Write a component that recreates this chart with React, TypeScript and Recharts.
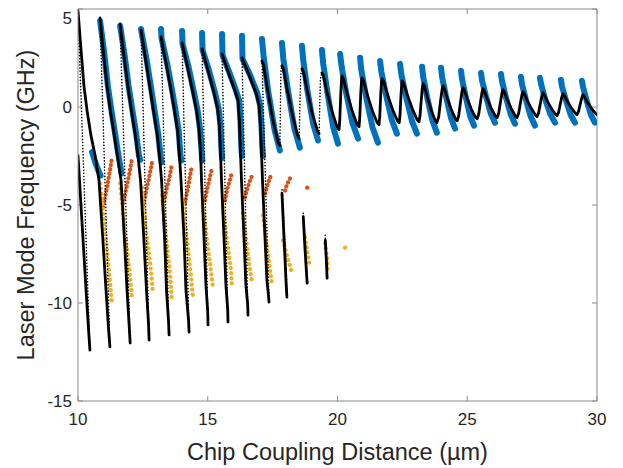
import React from 'react';
import { ComposedChart, Line, XAxis, YAxis, ReferenceLine } from 'recharts';

type Seg = [number, number][];

const xTicks = [10, 15, 20, 25, 30];
const yTicks = [-15, -10, -5, 0, 5];

// Black simulated curve: stable branches (thick)
const blackStable: Seg[] = [
  [[10.0, -2.48], [10.15, -5.78], [10.31, -9.34], [10.42, -11.63], [10.46, -12.4]],
  [[10.0, 4.9], [10.12, 2.86], [10.23, 1.08], [10.35, -0.19], [10.5, -1.46], [10.66, -2.48], [10.81, -3.75], [10.96, -6.8], [11.08, -9.34], [11.18, -11.38], [11.23, -12.24]],
  [[10.85, 4.54], [10.98, 2.76], [11.12, 1.08], [11.25, -0.19], [11.39, -1.36], [11.52, -2.48], [11.66, -3.75], [11.79, -6.8], [11.89, -9.34], [11.97, -11.12], [12.01, -12.04]],
  [[11.62, 4.24], [11.77, 2.61], [11.93, 0.98], [12.06, -0.19], [12.2, -1.36], [12.31, -2.48], [12.41, -3.75], [12.54, -6.8], [12.64, -9.34], [12.72, -11.12], [12.74, -11.89]],
  [[12.43, 3.93], [12.6, 2.46], [12.78, 0.93], [12.91, -0.19], [13.05, -1.36], [13.14, -2.48], [13.22, -3.75], [13.34, -6.8], [13.41, -9.34], [13.49, -10.97], [13.51, -11.63]],
  [[13.2, 3.58], [13.39, 2.25], [13.59, 0.83], [13.72, -0.19], [13.84, -1.21], [13.91, -2.48], [13.97, -3.75], [14.09, -6.8], [14.16, -9.34], [14.26, -10.87], [14.28, -11.48]],
  [[14.01, 3.27], [14.22, 2.05], [14.43, 0.73], [14.57, -0.19], [14.66, -1.1], [14.72, -2.22], [14.76, -3.75], [14.86, -6.8], [14.93, -9.09], [15.0, -10.46], [15.01, -11.12]],
  [[14.78, 2.97], [15.01, 1.85], [15.24, 0.73], [15.38, -0.09], [15.45, -0.95], [15.49, -2.22], [15.53, -3.75], [15.63, -6.8], [15.7, -9.09], [15.77, -10.36], [15.78, -10.97]],
  [[15.55, 2.71], [15.8, 1.74], [16.05, 0.83], [16.17, 0.32], [16.22, -0.7], [16.26, -2.22], [16.3, -3.75], [16.4, -6.8], [16.47, -9.09], [16.54, -10.11], [16.55, -10.62]],
  [[16.32, 2.51], [16.59, 1.64], [16.86, 0.73], [16.98, 0.07], [17.03, -0.95], [17.07, -2.22], [17.11, -3.75], [17.21, -6.8], [17.28, -8.84], [17.34, -9.6], [17.36, -9.95]],
  [[17.09, 2.35], [17.15, 2.15], [17.29, 1.0], [17.5, -0.6], [17.71, -1.8], [17.78, -1.97]],
  [[17.86, 2.1], [17.92, 1.92], [18.06, 0.9], [18.27, -0.45], [18.46, -1.45], [18.52, -1.61]],
  [[18.63, 1.95], [18.69, 1.78], [18.83, 0.85], [19.03, -0.35], [19.23, -1.22], [19.29, -1.36]],
  [
    [19.4, 1.74], [19.46, 1.6], [19.6, 0.73], [19.8, -0.28], [19.99, -1.03], [20.06, -1.15], [20.09, -0.6], [20.13, 0.8], [20.16, 1.45],
    [20.17, 1.59], [20.23, 1.45], [20.37, 0.68], [20.57, -0.22], [20.76, -0.9], [20.83, -1.0], [20.86, -0.5], [20.9, 0.8], [20.93, 1.38],
    [20.94, 1.49], [21.0, 1.35], [21.14, 0.65], [21.34, -0.18], [21.53, -0.8], [21.6, -0.9], [21.63, -0.45], [21.67, 0.75], [21.7, 1.33],
    [21.72, 1.44], [21.78, 1.3], [21.92, 0.66], [22.12, -0.13], [22.31, -0.7], [22.38, -0.8], [22.41, -0.4], [22.45, 0.7], [22.48, 1.22],
    [22.49, 1.34], [22.55, 1.2], [22.69, 0.61], [22.89, -0.12], [23.07, -0.66], [23.14, -0.75], [23.18, -0.45], [23.23, 0.4], [23.27, 1.0],
    [23.3, 1.19], [23.35, 1.05], [23.46, 0.5], [23.62, -0.2], [23.77, -0.7], [23.83, -0.8], [23.9, -0.5], [23.97, 0.3], [24.03, 0.9],
    [24.07, 1.08], [24.12, 0.95], [24.23, 0.45], [24.39, -0.15], [24.55, -0.62], [24.61, -0.7], [24.67, -0.45], [24.74, 0.25], [24.8, 0.82],
    [24.84, 0.98], [24.89, 0.86], [25.0, 0.42], [25.16, -0.12], [25.32, -0.53], [25.38, -0.6], [25.44, -0.38], [25.51, 0.25], [25.57, 0.77],
    [25.61, 0.93], [25.66, 0.82], [25.77, 0.4], [25.93, -0.1], [26.09, -0.47], [26.15, -0.54], [26.21, -0.33], [26.28, 0.25], [26.34, 0.73],
    [26.38, 0.88], [26.43, 0.77], [26.54, 0.37], [26.7, -0.1], [26.86, -0.47], [26.92, -0.54], [26.98, -0.33], [27.05, 0.2], [27.11, 0.65],
    [27.15, 0.78], [27.2, 0.68], [27.31, 0.33], [27.47, -0.08], [27.63, -0.42], [27.69, -0.49], [27.75, -0.3], [27.82, 0.2], [27.88, 0.6],
    [27.92, 0.73], [27.97, 0.63], [28.08, 0.3], [28.24, -0.06], [28.4, -0.38], [28.46, -0.44], [28.52, -0.27], [28.59, 0.18], [28.65, 0.55],
    [28.69, 0.68], [28.74, 0.59], [28.85, 0.29], [29.01, -0.04], [29.17, -0.33], [29.23, -0.39], [29.29, -0.22], [29.36, 0.18], [29.42, 0.5],
    [29.46, 0.63], [29.51, 0.54], [29.62, 0.25], [29.78, -0.06], [29.94, -0.33], [30.0, -0.39],
  ],
  [[17.86, -4.4], [17.95, -7.0], [18.02, -9.0], [18.05, -9.7]],
  [[18.68, -5.6], [18.75, -7.3], [18.83, -8.99]],
  [[19.53, -6.8], [19.57, -7.8], [19.6, -8.73]],
];

// Black simulated curve: unstable branches (sparse dots)
const blackUnstable: Seg[] = [
  [[10.46, -12.4], [10.0, 4.9]],
  [[11.23, -12.24], [10.85, 4.54]],
  [[12.01, -12.04], [11.62, 4.24]],
  [[12.74, -11.89], [12.43, 3.93]],
  [[13.51, -11.63], [13.2, 3.58]],
  [[14.28, -11.48], [14.01, 3.27]],
  [[15.01, -11.12], [14.78, 2.97]],
  [[15.78, -10.97], [15.55, 2.71]],
  [[16.55, -10.62], [16.32, 2.51]],
  [[17.36, -9.95], [17.09, 2.35]],
  [[17.78, -1.97], [17.82, 1.8], [17.86, 2.1]],
  [[18.52, -1.61], [18.58, 1.6], [18.63, 1.95]],
  [[19.29, -1.36], [19.34, 1.4], [19.4, 1.74]],
  [[18.06, -9.6], [17.98, -7.0], [17.86, -4.16]],
  [[18.84, -8.9], [18.74, -6.5], [18.67, -5.27]],
  [[19.61, -8.6], [19.55, -7.2], [19.52, -6.44]],
];

// Measured upper branch (blue)
const blueSeries: Seg[] = [
  [[10.54, -2.3], [10.66, -2.8], [10.77, -3.2], [10.87, -3.5]],
  [[10.85, 4.39], [10.87, 4.2], [11.01, 2.76], [11.15, 1.08], [11.29, -0.19], [11.43, -1.36], [11.56, -2.48], [11.68, -3.39]],
  [[11.62, 4.14], [11.64, 4.0], [11.8, 2.61], [11.96, 0.98], [12.1, -0.19], [12.24, -1.36], [12.35, -2.48], [12.4, -2.7]],
  [[12.43, 3.98], [12.45, 3.8], [12.64, 2.46], [12.82, 0.93], [12.95, -0.19], [13.09, -1.36], [13.18, -2.48], [13.22, -2.83]],
  [[13.2, 3.98], [13.22, 3.5], [13.43, 2.25], [13.63, 0.83], [13.76, -0.19], [13.88, -1.21], [13.95, -2.48], [13.99, -2.73]],
  [[14.01, 3.88], [14.03, 3.2], [14.26, 2.05], [14.47, 0.73], [14.61, -0.19], [14.7, -1.1], [14.76, -2.22], [14.79, -2.73]],
  [[14.78, 3.78], [14.8, 2.9], [15.05, 1.85], [15.28, 0.73], [15.42, -0.09], [15.49, -0.95], [15.53, -2.22], [15.55, -2.6]],
  [[15.55, 3.73], [15.57, 2.65], [15.84, 1.74], [16.09, 0.83], [16.21, 0.32], [16.26, -0.7], [16.3, -2.22], [16.32, -2.5]],
  [[16.32, 3.63], [16.34, 2.45], [16.63, 1.64], [16.9, 0.73], [17.02, 0.07], [17.07, -0.95], [17.11, -2.22], [17.13, -2.5]],
  [[17.09, 3.47], [17.15, 2.62], [17.33, 0.8], [17.58, -1.2], [17.78, -2.22]],
  [[17.86, 3.27], [17.91, 2.47], [18.1, 0.76], [18.34, -1.11], [18.55, -2.07]],
  [[18.63, 3.12], [18.68, 2.39], [18.84, 0.84], [19.06, -0.85], [19.25, -1.71]],
  [[19.4, 2.91], [19.45, 2.2], [19.62, 0.67], [19.83, -1.01], [20.02, -1.87]],
  [[20.1, 2.71], [20.16, 2.06], [20.34, 0.68], [20.58, -0.83], [20.79, -1.61]],
  [[20.87, 2.51], [20.92, 1.86], [21.11, 0.47], [21.35, -1.04], [21.56, -1.82]],
  [[21.64, 2.35], [21.69, 1.8], [21.87, 0.61], [22.1, -0.69], [22.29, -1.36]],
  [[22.41, 2.2], [22.46, 1.67], [22.64, 0.53], [22.87, -0.72], [23.06, -1.36]],
  [[23.26, 2.05], [23.3, 1.55], [23.46, 0.47], [23.66, -0.7], [23.83, -1.31]],
  [[23.99, 2.0], [24.03, 1.53], [24.18, 0.54], [24.37, -0.54], [24.53, -1.1]],
  [[24.76, 1.85], [24.8, 1.42], [24.94, 0.53], [25.11, -0.45], [25.26, -0.95]],
  [[25.53, 1.74], [25.57, 1.36], [25.72, 0.55], [25.91, -0.34], [26.07, -0.8]],
  [[26.3, 1.69], [26.34, 1.31], [26.49, 0.5], [26.68, -0.39], [26.84, -0.85]],
  [[27.07, 1.54], [27.11, 1.16], [27.26, 0.37], [27.45, -0.5], [27.61, -0.95]],
  [[27.8, 1.49], [27.85, 1.14], [28.0, 0.41], [28.21, -0.39], [28.38, -0.8]],
  [[28.61, 1.39], [28.65, 1.06], [28.8, 0.36], [28.99, -0.41], [29.15, -0.8]],
  [[29.42, 1.34], [29.46, 1.02], [29.6, 0.34], [29.77, -0.41], [29.92, -0.8]],
];

// Measured branch (orange)
const orangeSeries: Seg[] = [
  [[10.96, -5.12], [11.12, -4.1], [11.23, -3.24], [11.31, -2.58]],
  [[11.73, -4.92], [11.89, -4.0], [12.0, -3.24], [12.08, -2.63]],
  [[12.51, -5.02], [12.66, -4.1], [12.77, -3.39], [12.85, -2.83]],
  [[13.28, -5.02], [13.43, -4.1], [13.55, -3.44], [13.62, -2.88]],
  [[14.12, -4.92], [14.24, -4.1], [14.32, -3.49], [14.39, -2.99]],
  [[14.89, -4.77], [15.01, -4.0], [15.09, -3.54], [15.16, -3.14]],
  [[15.66, -4.77], [15.78, -4.05], [15.86, -3.7], [15.93, -3.34]],
  [[16.43, -4.61], [16.55, -4.05], [16.63, -3.75], [16.71, -3.49]],
  [[17.21, -4.41], [17.32, -3.9], [17.4, -3.6], [17.48, -3.39]],
  [[17.98, -4.26], [18.05, -3.95], [18.17, -3.65]],
  [[18.83, -4.12], [18.831, -4.1]],
];

// Measured branch (yellow)
const yellowSeries: Seg[] = [
  [[10.85, -3.9], [11.04, -6.29], [11.23, -8.84], [11.31, -10.11]],
  [[11.62, -3.9], [11.81, -6.29], [12.0, -8.58], [12.08, -9.7]],
  [[12.47, -4.1], [12.62, -6.29], [12.81, -8.33], [12.89, -9.5]],
  [[13.24, -4.51], [13.39, -6.55], [13.55, -8.58], [13.62, -9.95]],
  [[14.05, -4.92], [14.2, -6.8], [14.35, -8.58], [14.43, -9.7]],
  [[14.82, -4.92], [14.97, -6.8], [15.12, -8.33], [15.2, -9.19]],
  [[15.59, -5.12], [15.74, -6.8], [15.9, -8.33], [15.93, -9.19]],
  [[16.36, -5.43], [16.51, -7.06], [16.63, -8.33], [16.71, -8.99]],
  [[17.13, -5.53], [17.28, -7.06], [17.4, -8.33], [17.48, -9.09]],
  [[17.9, -6.8], [18.05, -7.56], [18.25, -8.48]],
  [[18.75, -6.65], [18.83, -7.31], [18.94, -8.17]],
  [[19.52, -6.95], [19.6, -7.72], [19.63, -8.48]],
  [[20.29, -7.18], [20.291, -7.16]],
];

type Row = { x: number; y: number | null };
const toRows = (segs: Seg[]): Row[] =>
  segs.flatMap((s) => [...s.map(([x, y]) => ({ x, y })), { x: s[s.length - 1][0], y: null }]);

const blueRows = toRows(blueSeries);
const orangeRows = toRows(orangeSeries);
const yellowRows = toRows(yellowSeries);
const stableRows = toRows(blackStable);
const unstableRows = toRows(blackUnstable);

const FONT = '"Liberation Sans", Arial, Helvetica, sans-serif';
const AXIS = '#8a8a8a';
const TXT = '#262626';

export default function App() {
  return (
    <ComposedChart width={615} height={460} margin={{ top: 1, right: 26, bottom: 0, left: 0 }}>
      <XAxis
        type="number"
        dataKey="x"
        domain={[10, 30]}
        ticks={xTicks}
        allowDataOverflow
        height={67}
        tickSize={0}
        tickMargin={12}
        axisLine={{ stroke: AXIS }}
        tickLine={false}
        tick={{ fill: TXT, fontSize: 17, fontFamily: FONT }}
        label={{ value: 'Chip Coupling Distance (µm)', position: 'insideBottom', offset: 8, style: { fill: TXT, fontSize: 23.5, fontFamily: FONT } }}
      />
      <YAxis
        type="number"
        dataKey="y"
        domain={[-15, 5]}
        ticks={yTicks}
        allowDataOverflow
        width={70}
        tickSize={0}
        tickMargin={6}
        axisLine={{ stroke: AXIS }}
        tickLine={false}
        tick={{ fill: TXT, fontSize: 17, fontFamily: FONT }}
        label={{ value: 'Laser Mode Frequency (GHz)', angle: -90, position: 'insideLeft', offset: 18, style: { fill: TXT, fontSize: 23.5, fontFamily: FONT, textAnchor: 'middle' } }}
      />
      <ReferenceLine y={5} stroke={AXIS} />
      <ReferenceLine x={30} stroke={AXIS} />
      {xTicks.map((t) => (
        <ReferenceLine key={'xb' + t} segment={[{ x: t, y: -15 }, { x: t, y: -14.75 }]} stroke={AXIS} />
      ))}
      {xTicks.map((t) => (
        <ReferenceLine key={'xt' + t} segment={[{ x: t, y: 5 }, { x: t, y: 4.75 }]} stroke={AXIS} />
      ))}
      {yTicks.map((t) => (
        <ReferenceLine key={'yl' + t} segment={[{ x: 10, y: t }, { x: 10.19, y: t }]} stroke={AXIS} />
      ))}
      {yTicks.map((t) => (
        <ReferenceLine key={'yr' + t} segment={[{ x: 29.81, y: t }, { x: 30, y: t }]} stroke={AXIS} />
      ))}
      <Line data={blueRows} dataKey="y" stroke="#0072BD" strokeWidth={6} strokeLinecap="round" strokeLinejoin="round" dot={false} activeDot={false} isAnimationActive={false} connectNulls={false} />
      <Line data={orangeRows} dataKey="y" stroke="#D95319" strokeWidth={4.2} strokeDasharray="0.1 4.2" strokeLinecap="round" dot={false} activeDot={false} isAnimationActive={false} connectNulls={false} />
      <Line data={yellowRows} dataKey="y" stroke="#EDB120" strokeWidth={4.2} strokeDasharray="0.1 5" strokeLinecap="round" dot={false} activeDot={false} isAnimationActive={false} connectNulls={false} />
      <Line data={unstableRows} dataKey="y" stroke="#000" strokeWidth={1.6} strokeDasharray="0.1 3" strokeLinecap="round" dot={false} activeDot={false} isAnimationActive={false} connectNulls={false} />
      <Line data={stableRows} dataKey="y" stroke="#000" strokeWidth={2.8} strokeLinecap="round" strokeLinejoin="round" dot={false} activeDot={false} isAnimationActive={false} connectNulls={false} />
    </ComposedChart>
  );
}
